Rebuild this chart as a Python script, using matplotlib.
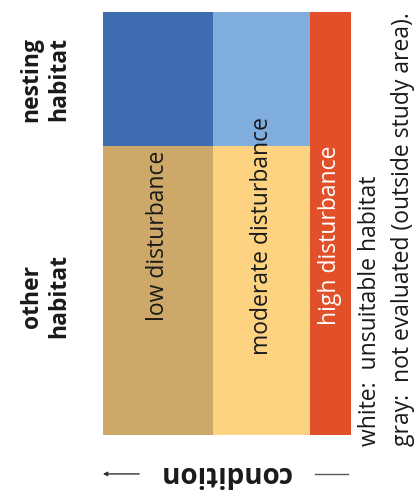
import matplotlib
matplotlib.use("Agg")
import matplotlib.pyplot as plt
import numpy as np

plt.rcParams['font.family'] = ['Open Sans', 'DejaVu Sans']

# columns (disturbance level) and their relative widths
columns = ['low disturbance', 'moderate disturbance', 'high disturbance']
col_widths = [110, 97, 41]
# rows (habitat type), top to bottom, with relative heights
rows = ['nesting\nhabitat', 'other\nhabitat']
row_heights = [134, 289]
cell_colors = [
    ['#3F6BB1', '#7FADDD', '#E2502A'],
    ['#CDA868', '#FDD280', '#E2502A'],
]
col_text_colors = ['#1a1a1a', '#1a1a1a', 'white']
notes = ['white:  unsuitable habitat', 'gray:  not evaluated (outside study area).']

W, H = 416, 495
fig = plt.figure(figsize=(W / 100, H / 100), dpi=100)
ax = fig.add_axes([103 / W, (H - 435) / H, 248 / W, 423 / H])

x_left = np.concatenate([[0], np.cumsum(col_widths)[:-1]])
y_top = np.concatenate([[0], np.cumsum(row_heights)[:-1]])
for i, rh in enumerate(row_heights):
    ax.bar(x_left, [rh] * len(columns), width=col_widths, bottom=y_top[i],
           align='edge', color=cell_colors[i], linewidth=0)

ax.set_xlim(0, sum(col_widths))
ax.set_ylim(sum(row_heights), 0)
ax.axis('off')

# column labels inside the "other habitat" row
for j, name in enumerate(columns):
    ax.text(x_left[j] + col_widths[j] / 2, y_top[1] + row_heights[1] * 0.31, name,
            rotation=90, ha='center', va='center', fontsize=16.5,
            color=col_text_colors[j])

# row labels on the left
for i, name in enumerate(rows):
    yc = y_top[i] + row_heights[i] / 2 + (0 if i == 0 else 6)
    ax.text(-0.232, 1 - yc / sum(row_heights), name,
            transform=ax.transAxes, rotation=90, ha='center',
            va='center', fontsize=16.5, fontweight='bold', color='#1a1a1a',
            linespacing=1.2)

# notes on the right
for k, note in enumerate(notes):
    ax.text(1.078 + k * 0.133, -0.026, note, transform=ax.transAxes,
            rotation=90, ha='center', va='bottom', fontsize=16.5,
            color='#1a1a1a')

# axis title "condition", upside down, with arrow
ax.text(0.49, -0.092, 'condition', transform=ax.transAxes, rotation=180,
        ha='center', va='center', fontsize=20, fontweight='bold',
        color='#1a1a1a')
ax.annotate('', xy=(-0.012, -0.092), xytext=(0.157, -0.092),
            xycoords='axes fraction',
            arrowprops=dict(arrowstyle='-|>', color='#333333', lw=1,
                            mutation_scale=6))
ax.plot([0.855, 0.988], [-0.092, -0.092], transform=ax.transAxes,
        color='#555555', lw=1, clip_on=False)

fig.savefig('out.png', dpi=100)
